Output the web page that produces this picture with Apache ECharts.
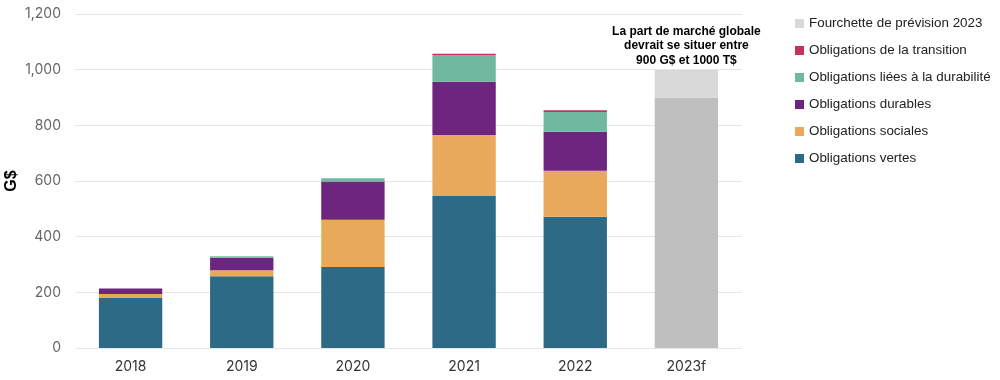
<!DOCTYPE html>
<html><head><meta charset="utf-8">
<script src="https://cdn.jsdelivr.net/npm/echarts@6/dist/echarts.min.js"></script>
<style>html,body{margin:0;padding:0;background:#fff}#c{width:1000px;height:380px}</style>
</head><body><div id="c"></div>
<script>
const categories = ['2018','2019','2020','2021','2022','2023f'];
const vertes      = [180, 258, 291, 546, 472, null];
const sociales    = [14, 21, 170, 219, 165, null];
const durables    = [20, 45, 137, 192, 140, null];
const liees       = [0, 6, 12, 96, 71, null];
const transition  = [0, 0, 0, 4, 6, null];
const prevision   = [null, null, null, null, null, 900];
const fourchette  = [null, null, null, null, null, 100];
const yTicks = [0, 200, 400, 600, 800, 1000, 1200];
const yTitle = 'G$';
const annotation = ['La part de marché globale', 'devrait se situer entre', '900 G$ et 1000 T$'];

const names = {
  f: 'Fourchette de prévision 2023',
  t: 'Obligations de la transition',
  l: 'Obligations liées à la durabilité',
  d: 'Obligations durables',
  s: 'Obligations sociales',
  v: 'Obligations vertes'
};
const colors = {v:'#2d6a86', s:'#e8a95a', d:'#6e2580', l:'#70b9a0', t:'#c2345e', f:'#d9d9d9', p:'#bfbfbf'};

function bar(name, data, color, extra) {
  return Object.assign({name, type:'bar', stack:'total', data, barWidth:'57%',
    itemStyle:{color}, emphasis:{disabled:true}}, extra || {});
}

const chart = echarts.init(document.getElementById('c'), null, {renderer:'canvas'});
chart.setOption({
  animation:false,
  grid:{left:75, right:258, top:14, bottom:32, containLabel:false, outerBoundsMode:'none'},
  legend:{
    orient:'vertical', left:790, top:12, itemWidth:9, itemHeight:9, itemGap:14,
    icon:'rect',
    data:[names.f, names.t, names.l, names.d, names.s, names.v],
    textStyle:{fontFamily:'Liberation Sans, Arial, sans-serif', fontSize:13.4, color:'#222', lineHeight:13}
  },
  graphic:[{
    type:'text', x:12, y:181, rotation:Math.PI/2,
    style:{text:yTitle, align:'center', verticalAlign:'middle',
      font:'bold 16px "Liberation Sans", Arial, sans-serif', fill:'#000'}
  }],
  xAxis:{
    type:'category', data:categories,
    axisLine:{show:false}, axisTick:{show:false},
    axisLabel:{color:'#333', fontSize:14, fontFamily:'Inter, Roboto, sans-serif', margin:12}
  },
  yAxis:{
    type:'value', min:yTicks[0], max:yTicks[yTicks.length-1], interval:200,
    splitLine:{lineStyle:{color:'#e6e6e6'}},
    axisLine:{show:false}, axisTick:{show:false},
    axisLabel:{color:'#666', fontSize:14, fontFamily:'Inter, Roboto, sans-serif', margin:14,
      formatter: v => v.toLocaleString('en-US')}
  },
  series:[
    bar(names.v, vertes, colors.v),
    bar(names.s, sociales, colors.s),
    bar(names.d, durables, colors.d),
    bar(names.l, liees, colors.l),
    bar(names.t, transition, colors.t),
    bar('Prévision 2023', prevision, colors.p),
    bar(names.f, fourchette, colors.f, {
      label:{show:true, position:'top', distance:2,
        formatter: p => p.value != null ? annotation.join('\n') : '',
        fontFamily:'Liberation Sans, Arial, sans-serif', fontWeight:'bold', fontSize:12,
        lineHeight:14.5, color:'#000', align:'center'}
    })
  ]
});
</script></body></html>
